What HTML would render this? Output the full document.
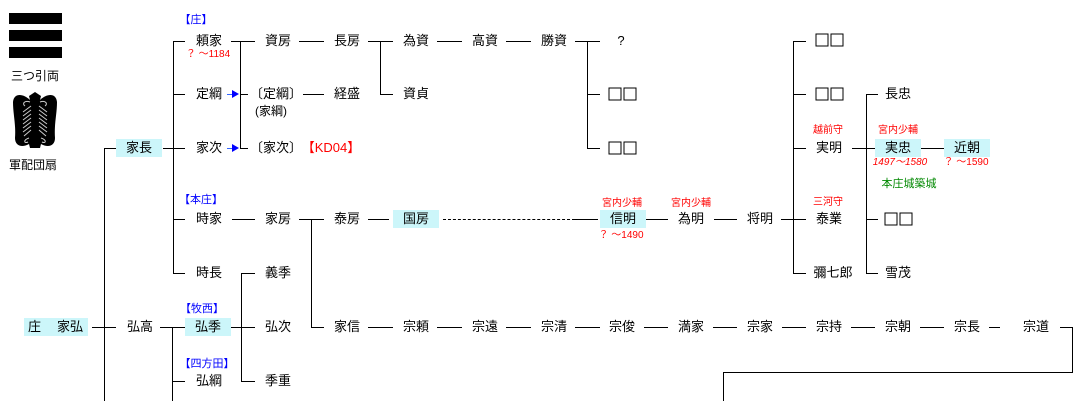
<!DOCTYPE html>
<html><head><meta charset="utf-8"><style>
html,body{margin:0;padding:0;background:#fff;width:1074px;height:401px;overflow:hidden;position:relative;font-family:"Liberation Sans","Noto Sans CJK JP",sans-serif;}
.t{position:absolute;font-size:13px;line-height:18px;height:18px;transform:translate(-50%,-50%);white-space:nowrap;color:#000;}
.bg{background:#ccf6fa;}
.s{position:absolute;font-size:10px;line-height:12px;transform:translate(-50%,-50%);white-space:nowrap;color:#f00;}
.b{color:#00f;font-size:11px;}
.g{color:#080;font-size:11px;}
.h{position:absolute;height:1px;background:#000;}
.v{position:absolute;width:1px;background:#000;}
.bar{position:absolute;left:9px;width:53px;height:11px;background:#000;}
.arr{position:absolute;height:1px;background:#36f;}
.tri{position:absolute;width:0;height:0;border-left:7px solid #00f;border-top:4px solid transparent;border-bottom:4px solid transparent;}
.q{position:absolute;width:29px;height:13px;transform:translate(-50%,-50%);}
.q:before,.q:after{content:"";position:absolute;top:0;width:11px;height:11px;border:1px solid #000;}
.q:before{left:0}.q:after{left:15px}
</style></head><body>
<div class="bar" style="top:13px"></div>
<div class="bar" style="top:30px"></div>
<div class="bar" style="top:47px"></div>
<div class="t" style="left:35px;top:76px;font-size:12px">三つ引両</div>
<svg style="position:absolute;left:10px;top:90px" width="50" height="60" viewBox="0 0 50 60">
<path d="M19 6 L25 2 L31 6 L30 10 C36 4 46 2 47 12 C47 24 44 34 45 48 C45 56 38 58 31 54 L30 58 L20 58 L19 54 C12 58 5 56 5 48 C6 34 3 24 3 12 C4 2 14 4 20 10 Z" fill="#000"/>
<g stroke="#ccc" stroke-width="1" fill="none">
<path d="M21 16 L13 22 M21 20 L13 26 M21 24 L13 30 M21 28 L13 34 M21 32 L13 38 M21 36 L13 42 M21 40 L14 46"/>
<path d="M29 16 L37 22 M29 20 L37 26 M29 24 L37 30 M29 28 L37 34 M29 32 L37 38 M29 36 L37 42 M29 40 L36 46"/>
<path d="M20 12 C14 10 12 14 15 16 M30 12 C36 10 38 14 35 16 M19 48 C13 50 14 54 18 52 M31 48 C37 50 36 54 32 52"/>
</g>
<rect x="22" y="8" width="6" height="48" fill="#000"/>
</svg>
<div class="t" style="left:33px;top:165px;font-size:12px">軍配団扇</div>

<!-- lines -->
<div class="v" style="left:104px;top:148px;height:253px"></div>
<div class="h" style="left:104px;top:148px;width:12px"></div>
<div class="h" style="left:92px;top:327px;width:24px"></div>
<div class="v" style="left:173px;top:41px;height:232px"></div>
<div class="h" style="left:163px;top:148px;width:22px"></div>
<div class="h" style="left:173px;top:41px;width:12px"></div>
<div class="h" style="left:173px;top:94px;width:12px"></div>
<div class="h" style="left:173px;top:219px;width:12px"></div>
<div class="h" style="left:173px;top:273px;width:12px"></div>
<div class="v" style="left:172px;top:327px;height:74px"></div>
<div class="h" style="left:160px;top:327px;width:25px"></div>
<div class="h" style="left:172px;top:381px;width:13px"></div>
<div class="v" style="left:240px;top:41px;height:107px"></div>
<div class="h" style="left:231px;top:41px;width:24px"></div>
<div class="h" style="left:240px;top:94px;width:8px"></div>
<div class="h" style="left:240px;top:148px;width:8px"></div>
<div class="arr" style="left:227px;top:94px;width:6px"></div>
<div class="tri" style="left:232px;top:90px"></div>
<div class="arr" style="left:227px;top:148px;width:6px"></div>
<div class="tri" style="left:232px;top:144px"></div>
<div class="v" style="left:241px;top:273px;height:108px"></div>
<div class="h" style="left:231px;top:327px;width:24px"></div>
<div class="h" style="left:241px;top:273px;width:14px"></div>
<div class="h" style="left:241px;top:381px;width:14px"></div>
<div class="h" style="left:299px;top:41px;width:25px"></div>
<div class="h" style="left:303px;top:94px;width:21px"></div>
<div class="v" style="left:380px;top:41px;height:53px"></div>
<div class="h" style="left:368px;top:41px;width:25px"></div>
<div class="h" style="left:380px;top:94px;width:13px"></div>
<div class="h" style="left:437px;top:41px;width:25px"></div>
<div class="h" style="left:506px;top:41px;width:25px"></div>
<div class="v" style="left:587px;top:41px;height:107px"></div>
<div class="h" style="left:575px;top:41px;width:25px"></div>
<div class="h" style="left:587px;top:94px;width:13px"></div>
<div class="h" style="left:587px;top:148px;width:13px"></div>
<div class="h" style="left:232px;top:219px;width:23px"></div>
<div class="v" style="left:311px;top:219px;height:108px"></div>
<div class="h" style="left:299px;top:219px;width:25px"></div>
<div class="h" style="left:311px;top:327px;width:13px"></div>
<div class="h" style="left:368px;top:219px;width:21px"></div>
<div style="position:absolute;left:443px;top:219px;width:132px;height:0;border-top:1px dashed #000"></div>
<div class="h" style="left:575px;top:219px;width:23px"></div>
<div class="h" style="left:645px;top:219px;width:23px"></div>
<div class="h" style="left:714px;top:219px;width:23px"></div>
<div class="h" style="left:781px;top:219px;width:25px"></div>
<div class="v" style="left:793px;top:41px;height:232px"></div>
<div class="h" style="left:793px;top:41px;width:13px"></div>
<div class="h" style="left:793px;top:94px;width:13px"></div>
<div class="h" style="left:793px;top:148px;width:13px"></div>
<div class="h" style="left:793px;top:273px;width:13px"></div>
<div class="h" style="left:852px;top:148px;width:23px"></div>
<div class="v" style="left:866px;top:94px;height:179px"></div>
<div class="h" style="left:866px;top:94px;width:12px"></div>
<div class="h" style="left:866px;top:219px;width:12px"></div>
<div class="h" style="left:866px;top:273px;width:12px"></div>
<div class="h" style="left:921px;top:148px;width:23px"></div>
<div class="h" style="left:368px;top:327px;width:25px"></div>
<div class="h" style="left:437px;top:327px;width:25px"></div>
<div class="h" style="left:506px;top:327px;width:25px"></div>
<div class="h" style="left:575px;top:327px;width:25px"></div>
<div class="h" style="left:644px;top:327px;width:24px"></div>
<div class="h" style="left:713px;top:327px;width:24px"></div>
<div class="h" style="left:782px;top:327px;width:24px"></div>
<div class="h" style="left:851px;top:327px;width:24px"></div>
<div class="h" style="left:920px;top:327px;width:24px"></div>
<div class="h" style="left:989px;top:327px;width:11px"></div>
<div class="h" style="left:1060px;top:327px;width:12px"></div>
<div class="v" style="left:1072px;top:327px;height:46px"></div>
<div class="h" style="left:723px;top:372px;width:350px"></div>
<div class="v" style="left:723px;top:372px;height:29px"></div>

<!-- text -->
<div class="t bg" style="left:56px;top:327px;width:64px;text-align:left;padding:0"><span style="position:absolute;left:4px">庄</span><span style="position:absolute;left:33px">家弘</span></div>
<div class="t" style="left:140px;top:327px">弘高</div>
<div class="t bg" style="left:139px;top:148px;width:46px;text-align:center">家長</div>
<div class="t b" style="left:196px;top:20px">【庄】</div>
<div class="t" style="left:209px;top:41px">頼家</div>
<div class="s" style="left:208px;top:55px">？ ～1184</div>
<div class="t" style="left:209px;top:94px">定綱</div>
<div class="t" style="left:209px;top:148px">家次</div>
<div class="t b" style="left:201px;top:200px">【本庄】</div>
<div class="t" style="left:209px;top:219px">時家</div>
<div class="t" style="left:209px;top:273px">時長</div>
<div class="t b" style="left:202px;top:309px">【牧西】</div>
<div class="t bg" style="left:208px;top:327px;width:46px;text-align:center">弘季</div>
<div class="t b" style="left:207px;top:364px">【四方田】</div>
<div class="t" style="left:209px;top:381px">弘綱</div>
<div class="t" style="left:278px;top:41px">資房</div>
<div class="t" style="left:276px;top:94px">〔定綱〕</div>
<div class="t" style="left:271px;top:111px;font-size:12px">(家綱)</div>
<div class="t" style="left:276px;top:148px">〔家次〕</div>
<div class="t" style="left:331px;top:148px;color:#f00">【KD04】</div>
<div class="t" style="left:278px;top:219px">家房</div>
<div class="t" style="left:278px;top:273px">義季</div>
<div class="t" style="left:278px;top:327px">弘次</div>
<div class="t" style="left:278px;top:381px">季重</div>
<div class="t" style="left:347px;top:41px">長房</div>
<div class="t" style="left:347px;top:94px">経盛</div>
<div class="t" style="left:347px;top:219px">泰房</div>
<div class="t" style="left:347px;top:327px">家信</div>
<div class="t" style="left:416px;top:41px">為資</div>
<div class="t" style="left:416px;top:94px">資貞</div>
<div class="t bg" style="left:416px;top:219px;width:46px;text-align:center">国房</div>
<div class="t" style="left:485px;top:41px">高資</div>
<div class="t" style="left:554px;top:41px">勝資</div>
<div class="t" style="left:621px;top:41px">?</div>
<div class="q" style="left:623px;top:94px"></div>
<div class="q" style="left:623px;top:148px"></div>
<div class="s" style="left:622px;top:204px">宮内少輔</div>
<div class="t bg" style="left:623px;top:219px;width:46px;text-align:center">信明</div>
<div class="s" style="left:621px;top:236px">？ ～1490</div>
<div class="s" style="left:691px;top:204px">宮内少輔</div>
<div class="t" style="left:691px;top:219px">為明</div>
<div class="t" style="left:760px;top:219px">将明</div>
<div class="q" style="left:830px;top:40px"></div>
<div class="q" style="left:830px;top:94px"></div>
<div class="s" style="left:828px;top:131px">越前守</div>
<div class="t" style="left:829px;top:148px">実明</div>
<div class="s" style="left:828px;top:203px">三河守</div>
<div class="t" style="left:829px;top:219px">泰業</div>
<div class="t" style="left:833px;top:273px">彌七郎</div>
<div class="t" style="left:898px;top:94px">長忠</div>
<div class="s" style="left:898px;top:131px">宮内少輔</div>
<div class="t bg" style="left:898px;top:148px;width:46px;text-align:center">実忠</div>
<div class="s" style="left:900px;top:163px;font-style:italic">1497～1580</div>
<div class="t g" style="left:909px;top:184px">本庄城築城</div>
<div class="q" style="left:899px;top:219px"></div>
<div class="t" style="left:898px;top:273px">雪茂</div>
<div class="t bg" style="left:967px;top:148px;width:46px;text-align:center">近朝</div>
<div class="s" style="left:966px;top:163px">？ ～1590</div>
<div class="t" style="left:416px;top:327px">宗頼</div>
<div class="t" style="left:485px;top:327px">宗遠</div>
<div class="t" style="left:554px;top:327px">宗清</div>
<div class="t" style="left:622px;top:327px">宗俊</div>
<div class="t" style="left:691px;top:327px">満家</div>
<div class="t" style="left:760px;top:327px">宗家</div>
<div class="t" style="left:829px;top:327px">宗持</div>
<div class="t" style="left:898px;top:327px">宗朝</div>
<div class="t" style="left:967px;top:327px">宗長</div>
<div class="t" style="left:1036px;top:327px">宗道</div>
</body></html>
